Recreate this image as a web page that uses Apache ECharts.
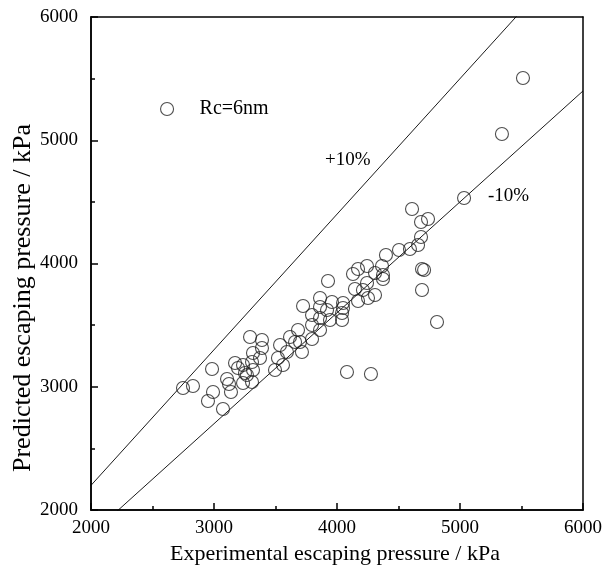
<!DOCTYPE html>
<html>
<head>
<meta charset="utf-8">
<script src="https://cdn.jsdelivr.net/npm/echarts@6/dist/echarts.min.js"></script>
<style>html,body{margin:0;padding:0;background:#fff;}#c{width:602px;height:571px;}</style>
</head>
<body>
<div id="c"></div>
<script>
// Experimental escaping pressure (kPa)
var expX = [2748,2829,2984,2992,2951,3073,3138,3106,3122,3171,3195,3236,3252,3309,3317,3309,3236,3293,3390,3390,
  3374,3317,3268,3496,3561,3520,3593,3537,3618,3659,3683,3715,3699,3797,3724,3862,3959,4049,3862,3797,
  3862,3943,4041,3797,3862,4041,4049,3927,4130,4171,4244,4366,4309,4374,4374,4244,4146,4211,4309,4252,
  4171,3919,4398,4504,4593,4659,4683,4683,4740,4610,5033,4691,4708,4691,4813,4081,4276,5341,5512];
// Predicted escaping pressure (kPa)
var predY = [2990,3006,3144,2957,2884,2820,2957,3063,3022,3193,3152,3177,3112,3201,3136,3039,3030,3404,3379,3314,
  3233,3274,3095,3136,3177,3233,3282,3339,3404,3363,3460,3282,3363,3388,3655,3720,3688,3680,3647,3582,
  3558,3542,3542,3501,3460,3598,3639,3858,3915,3955,3980,3980,3923,3907,3874,3842,3793,3785,3745,3720,
  3696,3623,4069,4110,4118,4150,4215,4337,4361,4442,4532,3955,3947,3785,3525,3120,3104,5051,5505];
var seriesName = 'Rc=6nm';
var xTicks = [2000,3000,4000,5000,6000];
var yTicks = [2000,3000,4000,5000,6000];
var xTitle = 'Experimental escaping pressure / kPa';
var yTitle = 'Predicted escaping pressure / kPa';
var bandRatios = [1.1, 0.9];
var bandLabels = ['+10%', '-10%'];
var lineXs = [2000, 6000];

var pts = expX.map(function(x,i){return [x, predY[i]];});
var font = 'Liberation Serif, Times New Roman, serif';
var chart = echarts.init(document.getElementById('c'), null, {renderer:'canvas'});
var line = {show:true, onZero:false, lineStyle:{color:'#000', width:1.5}};
function mk(extra, range){
  return Object.assign({
    type:'value', min:range[0], max:range[range.length-1], interval:1000,
    axisLine:line, splitLine:{show:false}, axisTick:{show:false}, axisLabel:{show:false}
  }, extra);
}
function fmt(v){ return (v % 1000 === 0) ? String(v) : ''; }
var minorTick = {show:true, inside:true, length:4, lineStyle:{color:'#000', width:1.5}};
var majorTick = {show:true, inside:true, length:7, lineStyle:{color:'#000', width:1.5}};
var series = [{
  name: seriesName, type:'scatter', data: pts, symbol:'circle', symbolSize:13,
  itemStyle:{color:'rgba(255,255,255,0)', borderColor:'#222', borderWidth:1.1},
  z:3
}];
bandRatios.forEach(function(r){
  series.push({
    type:'line', data: lineXs.map(function(x){return [x, x*r];}), symbol:'none',
    lineStyle:{color:'#000', width:0.9}, clip:true, silent:true, z:2
  });
});
chart.setOption({
  animation:false,
  backgroundColor:'#fff',
  grid:{left:91, right:19, top:17, bottom:61, containLabel:false, outerBoundsMode:'none'},
  legend:{
    data:[{name:seriesName, icon:'circle', itemStyle:{color:'rgba(255,255,255,0)', borderColor:'#222', borderWidth:1.1}}],
    left:155, top:94, itemWidth:13, itemHeight:13,
    textStyle:{fontFamily:font, fontSize:20, color:'#000', padding:[0,0,0,21]}
  },
  xAxis:[
    mk({position:'bottom', interval:500, axisTick:minorTick,
      axisLabel:{show:true, fontFamily:font, fontSize:19, color:'#000', margin:9, formatter:fmt}
    }, xTicks),
    mk({position:'bottom', axisTick:majorTick}, xTicks),
    mk({position:'top'}, xTicks)
  ],
  yAxis:[
    mk({position:'left', interval:500, axisTick:minorTick,
      axisLabel:{show:true, fontFamily:font, fontSize:19, color:'#000', margin:13, formatter:fmt}
    }, yTicks),
    mk({position:'left', axisTick:majorTick}, yTicks),
    mk({position:'right'}, yTicks)
  ],
  series: series,
  graphic:[
    {type:'text', left:325, top:151, style:{text:bandLabels[0], font:'19px '+font, fill:'#000'}},
    {type:'text', left:488, top:187, style:{text:bandLabels[1], font:'19px '+font, fill:'#000'}},
    {type:'text', x:335, y:554, style:{text:xTitle, font:'22px '+font, fill:'#000', align:'center', verticalAlign:'middle'}},
    {type:'text', x:23, y:298, rotation:Math.PI/2, style:{text:yTitle, font:'26px '+font, fill:'#000', align:'center', verticalAlign:'middle'}}
  ]
});
</script>
</body>
</html>
